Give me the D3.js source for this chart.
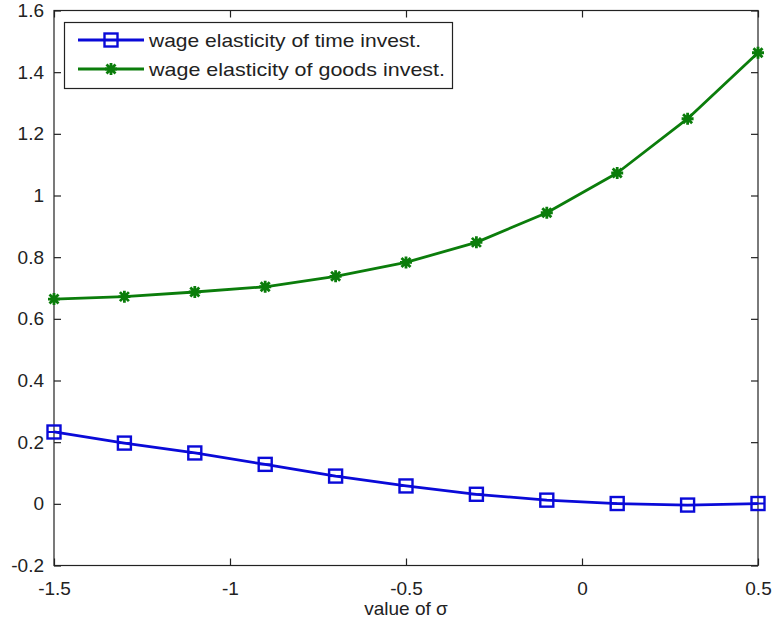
<!DOCTYPE html>
<html>
<head>
<meta charset="utf-8">
<script src="https://cdn.jsdelivr.net/npm/d3@7"></script>
<style>
  body { margin: 0; background: #fff; }
  svg text { font-family: "Liberation Sans", Arial, sans-serif; fill: #222; }
</style>
</head>
<body>
<svg id="chart" width="775" height="629"></svg>
<script>
'use strict';

// sigma values on the x axis
const sigma = [-1.5, -1.3, -1.1, -0.9, -0.7, -0.5, -0.3, -0.1, 0.1, 0.3, 0.5];
// wage elasticity of time investment
const timeInvest = [0.233, 0.197, 0.165, 0.128, 0.090, 0.058, 0.031, 0.012, 0.001, -0.004, 0.001];
// wage elasticity of goods investment
const goodsInvest = [0.664, 0.672, 0.687, 0.704, 0.738, 0.783, 0.848, 0.944, 1.073, 1.249, 1.463];

const xTicks = [-1.5, -1, -0.5, 0, 0.5];
const yTicks = [-0.2, 0, 0.2, 0.4, 0.6, 0.8, 1, 1.2, 1.4, 1.6];

const seriesNames = ['wage elasticity of time invest.', 'wage elasticity of goods invest.'];

const svg = d3.select('#chart');
const plotL = 54, plotR = 758, plotT = 10.5, plotB = 565.5;
const fontSize = 19;

const x = d3.scaleLinear().domain([-1.5, 0.5]).range([plotL, plotR]);
const y = d3.scaleLinear().domain([-0.2, 1.6]).range([plotB, plotT]);

const fmt = d => (d === 0 ? '0' : String(d));

// axes (MATLAB style box with inward ticks on all sides)
const axisColor = '#222';
const tickLen = 7;

svg.append('g')
    .attr('transform', 'translate(0,' + plotB + ')')
    .call(d3.axisBottom(x).tickValues(xTicks).tickFormat(fmt).tickSizeInner(-tickLen).tickSizeOuter(0).tickPadding(16))
    .call(g => g.select('.domain').remove())
    .call(g => g.selectAll('text').attr('font-size', fontSize));

svg.append('g')
    .attr('transform', 'translate(0,' + plotT + ')')
    .call(d3.axisTop(x).tickValues(xTicks).tickFormat('').tickSizeInner(-tickLen).tickSizeOuter(0))
    .call(g => g.select('.domain').remove());

svg.append('g')
    .attr('transform', 'translate(' + plotL + ',0)')
    .call(d3.axisLeft(y).tickValues(yTicks).tickFormat(fmt).tickSizeInner(-tickLen).tickSizeOuter(0).tickPadding(10))
    .call(g => g.select('.domain').remove())
    .call(g => g.selectAll('text').attr('font-size', fontSize));

svg.append('g')
    .attr('transform', 'translate(' + plotR + ',0)')
    .call(d3.axisRight(y).tickValues(yTicks).tickFormat('').tickSizeInner(-tickLen).tickSizeOuter(0))
    .call(g => g.select('.domain').remove());

svg.selectAll('.tick line').attr('stroke', axisColor).attr('stroke-width', 1.2);

svg.append('rect')
    .attr('x', plotL).attr('y', plotT)
    .attr('width', plotR - plotL).attr('height', plotB - plotT)
    .attr('fill', 'none').attr('stroke', axisColor).attr('stroke-width', 1.2);

svg.append('text')
    .attr('x', (plotL + plotR) / 2).attr('y', 615)
    .attr('text-anchor', 'middle').attr('font-size', fontSize)
    .text('value of σ');

// series
const blue = '#0a0ad8';
const green = '#0b7d0b';

const line = d3.line().x(d => x(d[0])).y(d => y(d[1]));

function drawSeries(vals, color, marker) {
    const pts = sigma.map((s, i) => [s, vals[i]]);
    svg.append('path')
        .datum(pts)
        .attr('d', line)
        .attr('fill', 'none')
        .attr('stroke', color)
        .attr('stroke-width', 2.8)
        .attr('stroke-linejoin', 'round');
    const g = svg.append('g');
    pts.forEach(p => marker(g, x(p[0]), y(p[1]), color));
}

function square(g, cx, cy, color) {
    g.append('rect')
        .attr('x', cx - 6.5).attr('y', cy - 6.5)
        .attr('width', 13).attr('height', 13)
        .attr('fill', 'none').attr('stroke', color).attr('stroke-width', 2.4);
    g.append('line')
        .attr('x1', cx - 6.5).attr('x2', cx + 6.5).attr('y1', cy).attr('y2', cy)
        .attr('stroke', color).attr('stroke-width', 2);
}

function star(g, cx, cy, color) {
    const r = 6;
    const p = g.append('path').attr('stroke', color).attr('stroke-width', 2.8).attr('fill', 'none');
    let d = 'M' + (cx - r) + ',' + cy + 'H' + (cx + r) + 'M' + cx + ',' + (cy - r) + 'V' + (cy + r);
    const k = r * 0.75;
    d += 'M' + (cx - k) + ',' + (cy - k) + 'L' + (cx + k) + ',' + (cy + k);
    d += 'M' + (cx - k) + ',' + (cy + k) + 'L' + (cx + k) + ',' + (cy - k);
    p.attr('d', d);
}

drawSeries(timeInvest, blue, square);
drawSeries(goodsInvest, green, star);

// legend
const legend = svg.append('g');
legend.append('rect')
    .attr('x', 64.5).attr('y', 22.5).attr('width', 388).attr('height', 66)
    .attr('fill', '#fff').attr('stroke', axisColor).attr('stroke-width', 1.2);

const legendRows = [
    {name: seriesNames[0], color: blue, marker: square, yy: 40, w: 272},
    {name: seriesNames[1], color: green, marker: star, yy: 69, w: 296}
];
legendRows.forEach(r => {
    legend.append('line')
        .attr('x1', 78).attr('x2', 144).attr('y1', r.yy).attr('y2', r.yy)
        .attr('stroke', r.color).attr('stroke-width', 2.8);
    r.marker(legend, 111, r.yy, r.color);
    legend.append('text')
        .attr('x', 149).attr('y', r.yy).attr('dy', '0.35em')
        .attr('font-size', fontSize)
        .attr('textLength', r.w).attr('lengthAdjust', 'spacingAndGlyphs')
        .text(r.name);
});
</script>
</body>
</html>
